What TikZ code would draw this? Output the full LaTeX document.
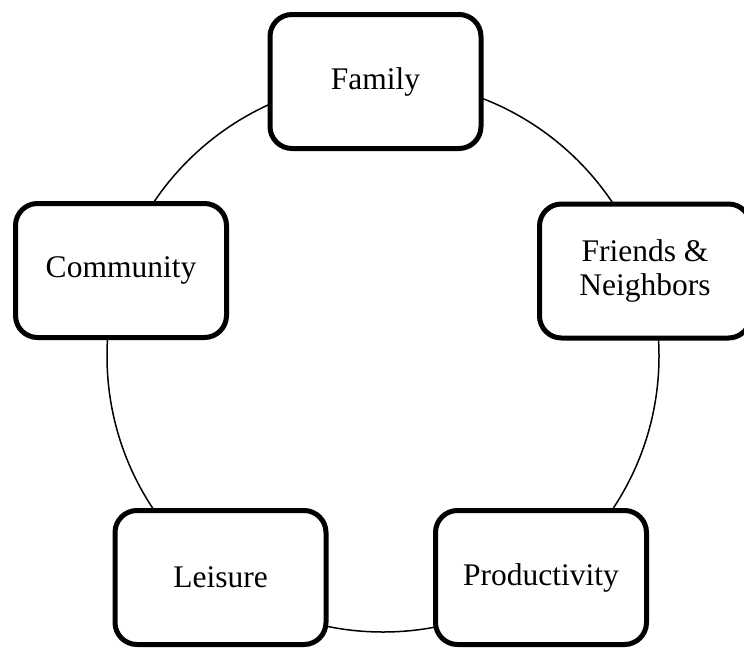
\documentclass[tikz,border=0pt]{standalone}
\usepackage{fontspec}
\setmainfont{Liberation Serif}
\begin{document}
\begin{tikzpicture}[x=1pt,y=-1pt,
  topic/.style={draw=black, line width=5pt, rounded corners=22pt, fill=white,
    minimum width=211pt, minimum height=134pt, align=center,
    font=\fontsize{31.5}{34}\selectfont, inner sep=0pt},
  ring/.style={draw=black, line width=1.5pt}]
\useasboundingbox (0,0) rectangle (744,648);
\coordinate (ctr) at (383,356);
\draw[ring] (ctr) circle[radius=276pt];
\node[topic] (family) at (375.5,81.5) {Family};
\node[topic] (community) at (121,270.5) {Community};
\node[topic] (friends) at (645,271) {Friends \&\\Neighbors};
\node[topic] (leisure) at (220.5,577.5) {Leisure};
\node[topic] (productivity) at (541,577.5) {Productivity};
\end{tikzpicture}
\end{document}
